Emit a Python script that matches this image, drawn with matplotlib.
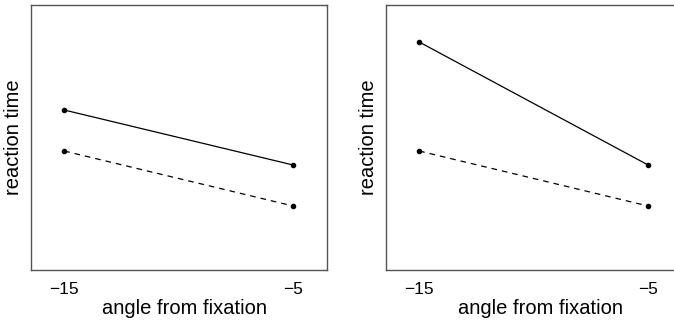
import matplotlib
matplotlib.use('Agg')
import matplotlib.pyplot as plt

plt.rcParams['font.family'] = ['Liberation Sans', 'DejaVu Sans']

# angle from fixation (deg) and reaction time (arbitrary units)
angles = [-15, -5]
left_solid = [160, 105]
left_dashed = [119, 64]
right_solid = [228, 105]
right_dashed = [119, 64]
tick_labels = ['\u221215', '\u22125']

panels = [
    (left_solid, left_dashed),
    (right_solid, right_dashed),
]

fig = plt.figure(figsize=(6.74, 3.24), dpi=100)
W, H = 674, 324
boxes = [(31, 54, 296, 265), (386, 54, 296, 265)]

for (solid, dashed), (x0, y0, w, h) in zip(panels, boxes):
    ax = fig.add_axes([x0 / W, y0 / H, w / W, h / H])
    ax.plot(angles, solid, color='k', lw=0.9, marker='o', ms=3.0)
    ax.plot(angles, dashed, color='k', lw=0.9, marker='o', ms=3.0,
            linestyle=(0, (4.5, 4)))
    ax.set_xlim(-16.45, -3.52)
    ax.set_ylim(0, 265)
    ax.set_xticks(angles)
    ax.set_xticklabels(tick_labels)
    ax.set_yticks([])
    ax.tick_params(axis='x', length=0, pad=9, labelsize=12.5)
    ax.set_xlabel('angle from fixation', fontsize=14.5, labelpad=2)
    ax.xaxis.set_label_coords(0.5 + 6 / w, -38 / h)
    ax.xaxis.label.set_va('center')
    ax.set_ylabel('reaction time', fontsize=14.5, labelpad=6)
    for sp in ax.spines.values():
        sp.set_color('#555555')
        sp.set_linewidth(1.0)

fig.savefig('out.png', dpi=100)
